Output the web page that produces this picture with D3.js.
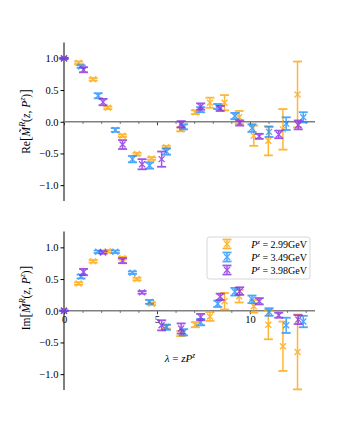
<!DOCTYPE html>
<html>
<head>
<meta charset="utf-8">
<script src="https://cdn.jsdelivr.net/npm/d3@7"></script>
<style>
  body { margin: 0; background: #fff; }
  svg, svg text { font-family: "Liberation Serif", "DejaVu Serif", serif; }
</style>
</head>
<body>
<svg id="chart"></svg>
<script>
var width = 350;
var height = 433;

// lambda = z * P^z for each momentum
var lamA = [0, 0.785, 1.57, 2.355, 3.14, 3.925, 4.71, 5.495, 6.28, 7.065, 7.85, 8.635, 9.42, 10.205, 10.99, 11.775, 12.56];
var lamB = [0, 0.92, 1.84, 2.76, 3.68, 4.6, 5.51, 6.43, 7.35, 8.27, 9.19, 10.11, 11.03, 11.95, 12.87];
var lamC = [0, 1.05, 2.1, 3.15, 4.2, 5.25, 6.3, 7.35, 8.4, 9.45, 10.5, 11.55, 12.6];

// real part
var reA = [1.0, 0.93, 0.67, 0.22, -0.22, -0.51, -0.58, -0.40, -0.12, 0.15, 0.30, 0.30, 0.07, -0.22, -0.30, -0.12, 0.43];
var reAerr = [0, 0.02, 0.02, 0.02, 0.02, 0.02, 0.02, 0.02, 0.03, 0.03, 0.08, 0.12, 0.10, 0.16, 0.23, 0.32, 0.52];
var reB = [1.0, 0.87, 0.41, -0.13, -0.59, -0.69, -0.47, -0.08, 0.19, 0.24, 0.09, -0.10, -0.16, -0.03, 0.07];
var reBerr = [0, 0.02, 0.04, 0.03, 0.05, 0.05, 0.05, 0.04, 0.04, 0.04, 0.05, 0.06, 0.08, 0.10, 0.08];
var reC = [1.0, 0.82, 0.31, -0.36, -0.67, -0.59, -0.04, 0.24, 0.21, -0.02, -0.23, -0.20, -0.05];
var reCerr = [0.01, 0.04, 0.05, 0.07, 0.08, 0.12, 0.05, 0.05, 0.04, 0.04, 0.04, 0.06, 0.07];

// imaginary part
var imA = [0, 0.43, 0.78, 0.94, 0.83, 0.50, 0.11, -0.25, -0.36, -0.22, -0.09, 0.15, 0.23, 0.07, -0.22, -0.56, -0.65];
var imAerr = [0, 0.02, 0.02, 0.02, 0.02, 0.02, 0.02, 0.03, 0.04, 0.04, 0.07, 0.13, 0.10, 0.10, 0.23, 0.39, 0.59];
var imB = [0, 0.54, 0.93, 0.93, 0.60, 0.14, -0.26, -0.34, -0.18, 0.11, 0.30, 0.18, -0.02, -0.23, -0.17];
var imBerr = [0, 0.03, 0.02, 0.02, 0.02, 0.03, 0.04, 0.05, 0.05, 0.05, 0.06, 0.06, 0.06, 0.12, 0.09];
var imC = [0, 0.61, 0.92, 0.79, 0.29, -0.23, -0.28, -0.10, 0.22, 0.31, 0.15, -0.07, -0.14];
var imCerr = [0, 0.05, 0.02, 0.04, 0.02, 0.08, 0.08, 0.05, 0.05, 0.06, 0.05, 0.04, 0.07];

var labels = ['2.99GeV', '3.49GeV', '3.98GeV'];
var colors = ['#ffa500', '#1e90ff', '#8a2be2'];

var yTicks = [-1.0, -0.5, 0.0, 0.5, 1.0];
var serif = '"Liberation Serif", "DejaVu Serif", serif';

var svg = d3.select('#chart')
            .attr('width', width)
            .attr('height', height);

var x = d3.scaleLinear().domain([0, 13.5]).range([64, 315]);

var panels = [
  { top: 42.5, bottom: 201, series: [[lamA, reA, reAerr], [lamB, reB, reBerr], [lamC, reC, reCerr]], xlabels: false },
  { top: 231.5, bottom: 390, series: [[lamA, imA, imAerr], [lamB, imB, imBerr], [lamC, imC, imCerr]], xlabels: true }
];

panels.forEach(function(p, pi) {
  var y = d3.scaleLinear().domain([-1.25, 1.25]).range([p.bottom, p.top]);
  var g = svg.append('g');

  // y axis (left spine at x = 0)
  var yAxis = g.append('g')
      .attr('transform', `translate(${x(0)},0)`)
      .call(d3.axisLeft(y).tickValues(yTicks).tickSize(3.5).tickPadding(2)
            .tickFormat(d => d3.format('.1f')(d).replace('-', '\u2212')))
      .attr('font-family', serif);
  yAxis.select('.domain').remove();
  yAxis.selectAll('text').style('font-size', '10.5px').attr('fill', '#000');
  g.append('line')
      .attr('x1', x(0)).attr('x2', x(0))
      .attr('y1', p.top).attr('y2', p.bottom)
      .attr('stroke', '#000').attr('stroke-width', 1);

  // x axis on y = 0
  var xMinor = g.append('g')
      .attr('transform', `translate(0,${y(0)})`)
      .call(d3.axisBottom(x).tickValues(d3.range(1, 14).filter(d => d % 5 !== 0)).tickSize(2).tickFormat(''));
  xMinor.select('.domain').remove();
  xMinor.selectAll('line').attr('stroke', '#555');

  var xMajor = g.append('g')
      .attr('transform', `translate(0,${y(0)})`)
      .call(d3.axisBottom(x).tickValues([0, 5, 10]).tickSize(3.5).tickPadding(1)
            .tickFormat(d => p.xlabels ? d : ''))
      .attr('font-family', serif);
  xMajor.select('.domain').remove();
  xMajor.selectAll('line').attr('stroke', '#333');
  xMajor.selectAll('text').style('font-size', '10.5px').attr('fill', '#000');

  g.append('line')
      .attr('x1', x(0)).attr('x2', x(13.5))
      .attr('y1', y(0)).attr('y2', y(0))
      .attr('stroke', '#808080').attr('stroke-width', 1.5);

  // data with error bars
  p.series.forEach(function(s, si) {
    var pts = s[0].map((l, i) => ({ l: l, v: s[1][i], e: s[2][i] }));
    var sg = g.append('g').attr('opacity', 0.8)
        .attr('stroke', colors[si]).attr('fill', 'none');
    var pt = sg.selectAll('.pt').data(pts).enter().append('g').classed('pt', true);
    pt.append('line')
        .attr('x1', d => x(d.l)).attr('x2', d => x(d.l))
        .attr('y1', d => y(d.v - d.e)).attr('y2', d => y(d.v + d.e))
        .attr('stroke-width', 1.5);
    [-1, 1].forEach(function(sgn) {
      pt.append('line')
          .attr('x1', d => x(d.l) - 4.5).attr('x2', d => x(d.l) + 4.5)
          .attr('y1', d => y(d.v + sgn * d.e)).attr('y2', d => y(d.v + sgn * d.e))
          .attr('stroke-width', 1.8);
    });
    pt.append('path')
        .attr('d', d => {
          var cx = x(d.l), cy = y(d.v), r = 3;
          return `M${cx - r},${cy - r}L${cx + r},${cy + r}M${cx - r},${cy + r}L${cx + r},${cy - r}`;
        })
        .attr('stroke-width', 1.3);
  });
});

// y labels
function yLabel(prefix, cx, cy) {
  var t = svg.append('text')
      .attr('transform', `translate(${cx},${cy}) rotate(-90)`)
      .attr('text-anchor', 'middle')
      .style('font-size', '11.5px');
  t.append('tspan').text(prefix);
  t.append('tspan').text('[').style('font-size', '14px');
  t.append('tspan').text('M\u0303').style('font-style', 'italic');
  t.append('tspan').text('R').style('font-style', 'italic').style('font-size', '8px').attr('dy', -5);
  t.append('tspan').text('(').attr('dy', 5);
  t.append('tspan').text('z').style('font-style', 'italic');
  t.append('tspan').text(', ');
  t.append('tspan').text('P').style('font-style', 'italic');
  t.append('tspan').text('z').style('font-style', 'italic').style('font-size', '8px').attr('dy', -5);
  t.append('tspan').text(')').attr('dy', 5);
  t.append('tspan').text(']').style('font-size', '14px');
}
yLabel('Re', 30, 121.5);
yLabel('Im', 30, 298);

// x label
var xl = svg.append('text')
    .attr('x', 180).attr('y', 362)
    .attr('text-anchor', 'middle')
    .style('font-size', '11px');
xl.append('tspan').text('\u03bb').style('font-style', 'italic');
xl.append('tspan').text(' = ');
xl.append('tspan').text('zP').style('font-style', 'italic');
xl.append('tspan').text('z').style('font-style', 'italic').style('font-size', '7.5px').attr('dy', -4.5);

// legend
var lg = svg.append('g');
lg.append('rect')
    .attr('x', 207).attr('y', 237).attr('width', 103).attr('height', 42)
    .attr('rx', 2.5)
    .attr('fill', '#fff').attr('fill-opacity', 0.8)
    .attr('stroke', '#ccc').attr('stroke-width', 0.8);
labels.forEach(function(lab, i) {
  var cy = 244 + i * 13, cx = 227;
  var mg = lg.append('g').attr('opacity', 0.8).attr('stroke', colors[i]);
  mg.append('line').attr('x1', cx).attr('x2', cx).attr('y1', cy - 4.5).attr('y2', cy + 4.5).attr('stroke-width', 1.5);
  mg.append('line').attr('x1', cx - 4.5).attr('x2', cx + 4.5).attr('y1', cy - 4.5).attr('y2', cy - 4.5).attr('stroke-width', 1.8);
  mg.append('line').attr('x1', cx - 4.5).attr('x2', cx + 4.5).attr('y1', cy + 4.5).attr('y2', cy + 4.5).attr('stroke-width', 1.8);
  mg.append('path').attr('d', `M${cx - 3},${cy - 3}L${cx + 3},${cy + 3}M${cx - 3},${cy + 3}L${cx + 3},${cy - 3}`).attr('stroke-width', 1.3);
  var t = lg.append('text').attr('x', 307).attr('y', cy + 3.5)
      .attr('text-anchor', 'end').style('font-size', '10px');
  t.append('tspan').text('P').style('font-style', 'italic');
  t.append('tspan').text('z').style('font-style', 'italic').style('font-size', '7px').attr('dy', -4);
  t.append('tspan').text(' = ' + lab).attr('dy', 4);
});
</script>
</body>
</html>
